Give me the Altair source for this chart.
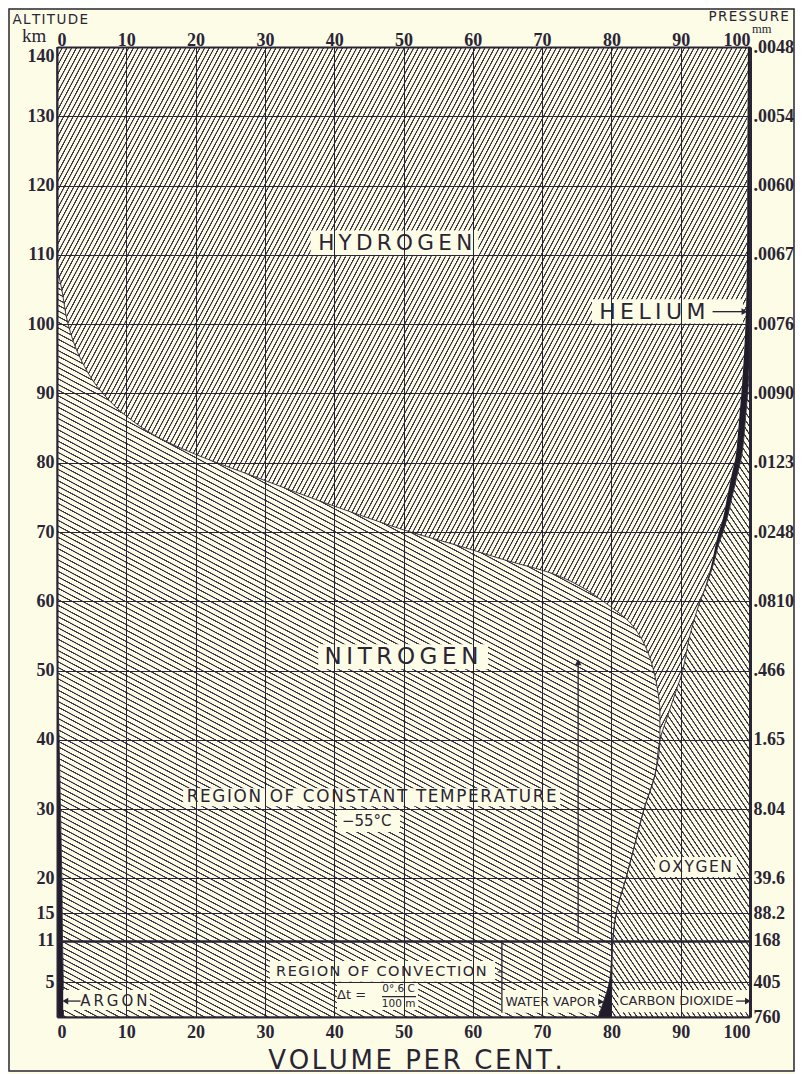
import math
import pandas as pd
import altair as alt

PAPER = "#fcfce7"
INK = "#2a2535"
HATCH = "#3b3647"
SOLID = "#201c2a"
SERIF = "Liberation Serif"
SANS = "DejaVu Sans"
THIN = "\u2009"
HAIR = "\u200a"

W, H = 693, 970

# ---------------- data ----------------
ALT = [0, 2, 5, 8, 11, 15, 20, 25, 30, 35, 40, 44, 47, 50, 52, 55, 57, 60, 62, 64,
       66, 68, 70, 72, 75, 78, 81, 83.5, 86.5, 90.5, 95, 100, 105, 109, 115, 120, 130, 140]

ARGON = [0.94, 0.93, 0.9, 0.85, 0.8, 0.75, 0.7, 0.6, 0.5, 0.4, 0.3, 0.2, 0.15, 0.1, 0.05,
         0, 0, 0, 0, 0, 0, 0, 0, 0, 0, 0, 0, 0, 0, 0, 0, 0, 0, 0, 0, 0, 0, 0]
NITROGEN = [77.16, 77.87, 78.8, 79.15, 79.4, 79.95, 81.4, 82.8, 84.2, 85.9, 86.7, 86.8, 86.55,
            86.0, 85.45, 84.1, 82.6, 78.8, 75.8, 71.5, 64.5, 58.0, 51.0, 45.0, 36.5, 28.5,
            20.5, 14.9, 10.3, 6.2, 3.4, 1.6, 0.7, 0, 0, 0, 0, 0]
WATER_VAPOR = [1.9, 1.2, 0.35, 0.1, 0, 0, 0, 0, 0, 0, 0, 0, 0, 0, 0, 0, 0, 0, 0, 0,
               0, 0, 0, 0, 0, 0, 0, 0, 0, 0, 0, 0, 0, 0, 0, 0, 0, 0]
HYDROGEN = [0, 0, 0, 0, 0, 0, 0, 0, 0, 0, 0, 1.3, 2.6, 4.2, 5.2, 7.2, 9.25, 13.95, 17.7, 22.6,
            30.1, 37.0, 44.5, 51.1, 60.2, 68.8, 77.45, 83.3, 88.15, 92.6, 95.7, 97.75, 98.8,
            99.55, 99.6, 99.6, 99.65, 99.7]
HELIUM = [0, 0, 0, 0, 0, 0, 0, 0, 0, 0, 0, 0, 0, 0, 0, 0, 0, 0.05, 0.1, 0.2,
          0.3, 0.4, 0.6, 0.6, 0.7, 0.8, 0.85, 0.9, 0.9, 0.9, 0.8, 0.65, 0.5, 0.45, 0.4, 0.4, 0.35, 0.3]
OXYGEN = [19.97, 19.97, 19.92, 19.87, 19.77, 19.3, 17.9, 16.6, 15.3, 13.7, 13.0, 11.7, 10.7,
          9.7, 9.3, 8.7, 8.15, 7.2, 6.4, 5.7, 5.1, 4.6, 3.9, 3.3, 2.6, 1.9, 1.2, 0.9, 0.65,
          0.3, 0.1, 0, 0, 0, 0, 0, 0, 0]
CO2 = [0.03, 0.03, 0.03, 0.03, 0.03, 0, 0, 0, 0, 0, 0, 0, 0, 0, 0, 0, 0, 0, 0, 0,
       0, 0, 0, 0, 0, 0, 0, 0, 0, 0, 0, 0, 0, 0, 0, 0, 0, 0]

X_TICKS = [0, 10, 20, 30, 40, 50, 60, 70, 80, 90, 100]
ALT_TICKS = [0, 5, 11, 15, 20, 30, 40, 50, 60, 70, 80, 90, 100, 110, 120, 130, 140]
PRESSURE = ["760", "405", "168", "88.2", "39.6", "8.04", "1.65", ".466", ".0810", ".0248",
            ".0123", ".0090", ".0076", ".0067", ".0060", ".0054", ".0048"]

LABEL_TEXT = ["HYDROGEN", "NITROGEN", "HELIUM", "REGION OF CONSTANT TEMPERATURE", "\u221255\u00b0C",
              "OXYGEN", "REGION OF CONVECTION", "\u0394t =", "0\u00b0.6 C", "100 m",
              "WATER VAPOR", "CARBON DIOXIDE", "ARGON"]
LABEL_X = [48.8, 49.7, 85.9, 45.4, 44.7, 92.1, 46.8, 42.5, 49.3, 49.3, 71.2, 89.4, 8.2]
LABEL_Y = [111.6, 51.9, 101.8, 31.7, 28.3, 21.6, 6.5, 3.2, 4.0, 1.9, 2.2, 2.3, 2.3]
LABEL_SIZE = [21.5, 23, 22, 16.8, 15, 15.5, 14.5, 13, 10.5, 10.5, 12.5, 13, 15]
LABEL_GAP = [THIN, THIN, THIN, HAIR, "", HAIR, HAIR, "", "", "", "", "", THIN]

BOX_X0 = [36.6, 37.7, 77.2, 18.2, 40.4, 86.3, 30.7, 40.4, 64.1, 81.0, 0.9]
BOX_X1 = [60.8, 62.2, 99.0, 72.6, 49.5, 98.1, 63.2, 52.1, 78.2, 99.9, 13.4]
BOX_Y0 = [109.8, 50.2, 100.1, 30.4, 26.7, 20.2, 5.1, 1.0, 0.6, 0.7, 1.0]
BOX_Y1 = [113.5, 53.8, 103.6, 33.0, 29.9, 23.1, 8.1, 4.9, 3.9, 3.9, 3.9]

RULE_X0 = [94.6, 98.0, 1.6, 75.2, 64.2, 63.6, 46.9]
RULE_X1 = [98.9, 99.5, 3.4, 75.2, 64.2, 64.2, 51.8]
RULE_Y0 = [101.8, 2.3, 2.3, 12.0, 0.6, 6.5, 2.95]
RULE_Y1 = [101.8, 2.3, 2.3, 50.8, 11.0, 6.5, 2.95]

HEAD_X = [99.2, 99.7, 1.2, 75.2, 78.5]
HEAD_Y = [101.8, 2.3, 2.3, 51.2, 2.2]
HEAD_SHAPE = ["triangle-right", "triangle-right", "triangle-left", "triangle-up", "triangle-right"]

# ---------------- helpers ----------------
xs = alt.Scale(domain=[0, 100], nice=False, zero=False)
ys = alt.Scale(domain=[0, 140], nice=False, zero=False)


def hatch(angle, spacing, w, h, lw=0.85, soft=0.35):
    """Linear gradient with many hard stops = hatching (bbox units)."""
    a = math.radians(angle)
    dx, dy = math.cos(a), -math.sin(a)
    nx, ny = -dy, dx
    L = abs(nx) * w + abs(ny) * h
    gx, gy = nx * w / L, ny * h / L
    g2 = gx * gx + gy * gy
    vx, vy = gx / g2, gy / g2
    x1 = 1.0 if gx < 0 else 0.0
    y1 = 1.0 if gy < 0 else 0.0
    n = max(1, int(round(L / spacing)))
    per = 1.0 / n
    s, c = soft / L, lw / L
    stops = []
    for k in range(n):
        p = k * per
        stops += [{"offset": round(p, 6), "color": PAPER},
                  {"offset": round(p + s, 6), "color": HATCH},
                  {"offset": round(p + s + c, 6), "color": HATCH},
                  {"offset": round(min(p + 2 * s + c, 1.0), 6), "color": PAPER}]
    return {"gradient": "linear", "x1": x1, "y1": y1,
            "x2": round(x1 + vx, 6), "y2": round(y1 + vy, 6), "stops": stops}


GASES = [("argon", ARGON), ("nitrogen", NITROGEN), ("water", WATER_VAPOR),
         ("hydrogen", HYDROGEN), ("helium", HELIUM), ("oxygen", OXYGEN), ("co2", CO2)]
frames = {}
cum = [0.0] * len(ALT)
for name, vals in GASES:
    start = list(cum)
    cum = [a + b for a, b in zip(cum, vals)]
    frames[name] = pd.DataFrame({"alt": ALT, "x0": start, "x1": list(cum)})


def bbox(df):
    w = (df["x1"].max() - df["x0"].min()) / 100.0 * W
    h = (df["alt"].max() - df["alt"].min()) / 140.0 * H
    return w, h


def spaced(s, sep):
    return sep.join(s) if sep else s


x_bottom = alt.Axis(orient="bottom", values=X_TICKS, grid=True, gridColor=INK, gridWidth=1,
                    gridOpacity=1, ticks=False, tickSize=0, domain=True, domainColor=INK,
                    domainWidth=2, labelFont=SERIF, labelFontSize=18, labelFontWeight="bold",
                    labelColor=INK, labelPadding=6, labelOverlap=False,
                    title=spaced("VOLUME PER CENT.", HAIR), titleFont=SANS, titleFontSize=26,
                    titleFontWeight="normal", titleColor=INK, titleX=358, titleY=51,
                    titleBaseline="alphabetic", titleAlign="center", zindex=1)
x_top = alt.Axis(orient="top", values=X_TICKS, grid=False, ticks=False, tickSize=0,
                 domain=True, domainColor=INK, domainWidth=2, labelFont=SERIF,
                 labelFontSize=18, labelFontWeight="bold", labelColor=INK,
                 labelBaseline="alphabetic", labelPadding=2, labelFlush=True,
                 labelOverlap=False, title="", zindex=1)
y_left = alt.Axis(orient="left", values=ALT_TICKS[1:], grid=True, gridColor=INK, gridOpacity=1,
                  gridWidth={"condition": {"test": "datum.value == 11", "value": 2.6}, "value": 1},
                  ticks=False, tickSize=0, domain=True, domainColor=INK, domainWidth=2,
                  labelFont=SERIF, labelFontSize=18, labelFontWeight="bold", labelColor=INK,
                  labelPadding=3, labelOverlap=False, labelFlush=True,
                  title=spaced("ALTITUDE", HAIR),
                  titleFont=SANS, titleFontSize=13.5, titleFontWeight="normal", titleColor=INK,
                  titleAngle=0, titleAlign="left", titleBaseline="alphabetic",
                  titleX=-45, titleY=-24, zindex=1)
press_expr = " : ".join(f"datum.value == {a} ? '{p}'" for a, p in zip(ALT_TICKS, PRESSURE)) + " : ''"
y_right = alt.Axis(orient="right", values=ALT_TICKS, labelExpr=press_expr, grid=False,
                   ticks=False, tickSize=0, domain=True, domainColor=INK, domainWidth=3,
                   labelFont=SERIF, labelFontSize=18, labelFontWeight="bold", labelColor=INK,
                   labelPadding=3, labelOverlap=False, title=spaced("PRESSURE", HAIR),
                   titleFont=SANS, titleFontSize=13.5, titleFontWeight="normal", titleColor=INK,
                   titleAngle=0, titleAlign="left", titleBaseline="alphabetic",
                   titleX=-42, titleY=-27, zindex=1)


def area(name, fill, xaxis=None, yaxis=None, **kw):
    df = frames[name]
    return alt.Chart(df).mark_area(orient="horizontal", interpolate="monotone", fill=fill, **kw).encode(
        y=alt.Y("alt:Q", scale=ys, axis=yaxis),
        x=alt.X("x0:Q", scale=xs, axis=xaxis),
        x2="x1:Q",
    )


layers = []
layers.append(area("argon", SOLID, x_bottom, y_left))
w, h = bbox(frames["nitrogen"])
layers.append(area("nitrogen", hatch(-28, 5.0, w, h), x_top, y_right))
layers.append(area("water", SOLID))
w, h = bbox(frames["hydrogen"])
layers.append(area("hydrogen", hatch(62, 4.2, w, h)))
layers.append(area("helium", SOLID))
w, h = bbox(frames["oxygen"])
layers.append(area("oxygen", hatch(-56, 4.4, w, h)))
layers.append(area("co2", SOLID))
# boundary outlines
layers.append(area("nitrogen", PAPER, fillOpacity=0, stroke=INK, strokeWidth=0.9))
layers.append(area("oxygen", PAPER, fillOpacity=0, stroke=INK, strokeWidth=0.9))

boxes = pd.DataFrame({"x0": BOX_X0, "x1": BOX_X1, "y0": BOX_Y0, "y1": BOX_Y1})
layers.append(alt.Chart(boxes).mark_rect(fill=PAPER).encode(
    x=alt.X("x0:Q", scale=xs, axis=None), x2="x1:Q",
    y=alt.Y("y0:Q", scale=ys, axis=None), y2="y1:Q"))

rules = pd.DataFrame({"x0": RULE_X0, "x1": RULE_X1, "y0": RULE_Y0, "y1": RULE_Y1})
layers.append(alt.Chart(rules).mark_rule(color=INK, strokeWidth=1.3).encode(
    x=alt.X("x0:Q", scale=xs, axis=None), x2="x1:Q",
    y=alt.Y("y0:Q", scale=ys, axis=None), y2="y1:Q"))

heads = pd.DataFrame({"x": HEAD_X, "y": HEAD_Y, "shape": HEAD_SHAPE})
layers.append(alt.Chart(heads).mark_point(filled=True, color=INK, opacity=1, size=45).encode(
    x=alt.X("x:Q", scale=xs, axis=None),
    y=alt.Y("y:Q", scale=ys, axis=None),
    shape=alt.Shape("shape:N", scale=None)))

labels = pd.DataFrame({
    "text": [spaced(t, g) for t, g in zip(LABEL_TEXT, LABEL_GAP)],
    "x": LABEL_X, "y": LABEL_Y, "fs": LABEL_SIZE})
layers.append(alt.Chart(labels).mark_text(font=SANS, color=INK, align="center",
                                          baseline="middle").encode(
    x=alt.X("x:Q", scale=xs, axis=None),
    y=alt.Y("y:Q", scale=ys, axis=None),
    text="text:N",
    size=alt.Size("fs:Q", scale=None)))

one = pd.DataFrame({"k": [0]})
layers.append(alt.Chart(one).mark_text(font=SERIF, fontSize=19, color=INK, align="left",
                                       baseline="alphabetic").encode(
    x=alt.value(-35), y=alt.value(-5), text=alt.value("km")))
layers.append(alt.Chart(one).mark_text(font=SERIF, fontSize=12.5, color=INK, align="left",
                                       baseline="alphabetic").encode(
    x=alt.value(695), y=alt.value(-14), text=alt.value("mm")))
layers.append(alt.Chart(one).mark_rect(fill=PAPER, fillOpacity=0, stroke=INK,
                                       strokeWidth=1.5).encode(
    x=alt.value(-48), x2=alt.value(737), y=alt.value(-38), y2=alt.value(1024)))

chart = alt.layer(*layers).resolve_axis(x="independent", y="independent").properties(
    width=W, height=H, background=PAPER,
    padding={"left": 49, "top": 39, "right": 45, "bottom": 57},
    autosize=alt.AutoSizeParams(type="none"),
).configure_view(strokeWidth=0)

chart.save("out.html", embed_options={"renderer": "svg", "actions": False})
